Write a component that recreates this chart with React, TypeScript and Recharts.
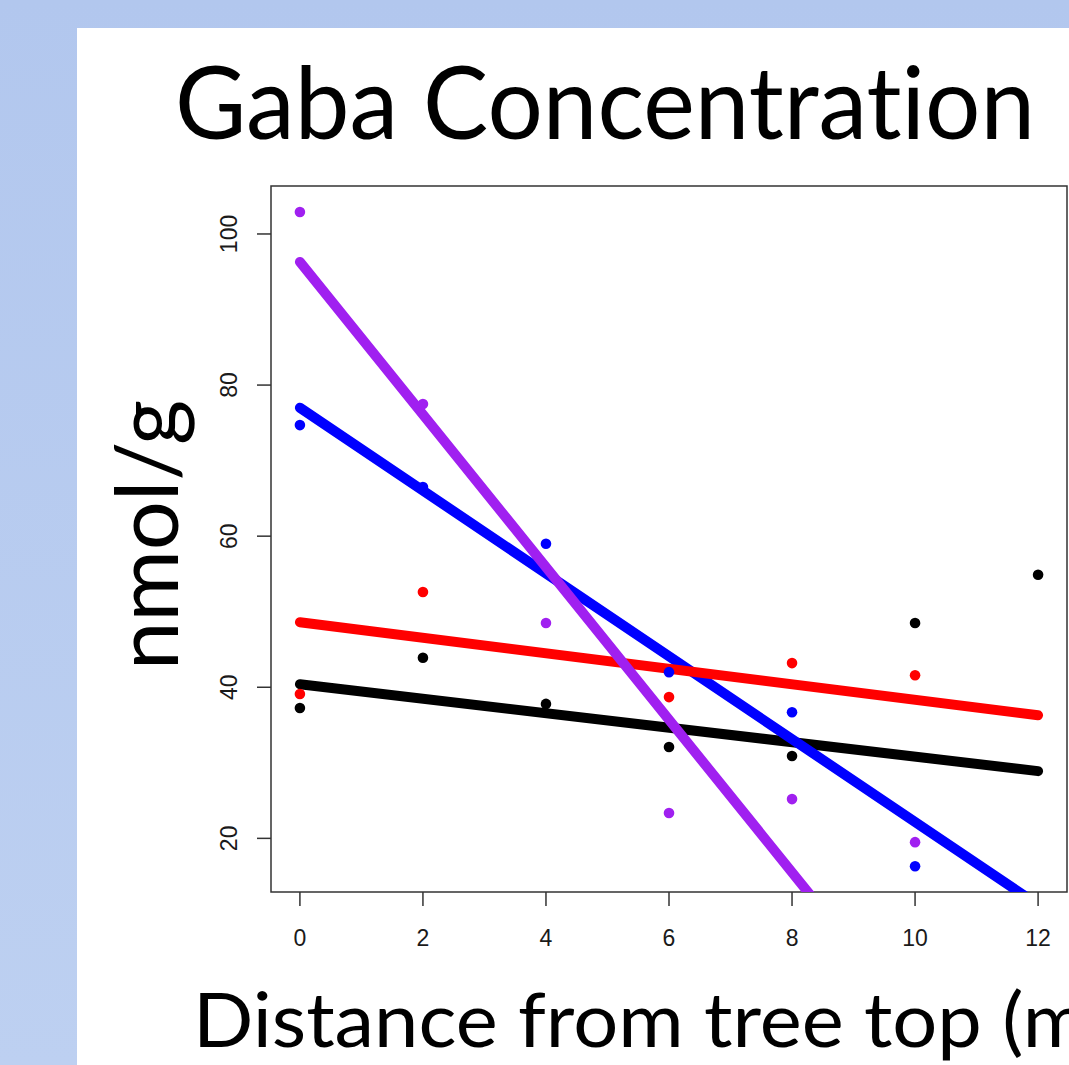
import React from "react";
import {
  ComposedChart,
  Line,
  Scatter,
  XAxis,
  YAxis,
  ReferenceArea,
} from "recharts";

// ---------- data ----------
const distances = [0, 2, 4, 6, 8, 10, 12];
const blackValues = [37.25, 43.9, 37.8, 32.1, 30.9, 48.5, 54.9];
const redValues = [39.1, 52.6, null, 38.7, 43.2, 41.6, null];
const blueValues = [74.7, 66.5, 59.0, 42.0, 36.7, 16.3, null];
const purpleValues = [102.9, 77.5, 48.5, 23.35, 25.2, 19.5, null];

const fitX = [0, 12];
const blackFit = [40.4, 28.9];
const redFit = [48.6, 36.3];
const blueFit = [77.0, 11.2];
const purpleFit = [96.3, -24.9];

const xTicks = [0, 2, 4, 6, 8, 10, 12];
const yTicks = [20, 40, 60, 80, 100];

const titleText = "Gaba Concentration";
const yTitle = "nmol/g";
const xTitle = "Distance from tree top (m)";

// ---------- helpers ----------
const toPoints = (vals: (number | null)[]) =>
  distances
    .map((x, i) => ({ x, y: vals[i] }))
    .filter((p) => p.y !== null);

const toLine = (vals: number[]) => fitX.map((x, i) => ({ x, y: vals[i] }));

const dot = (color: string) => (props: any) =>
  props.cx == null ? null : (
    <circle cx={props.cx} cy={props.cy} r={5.3} fill={color} />
  );

const XTick = (props: any) => (
  <text
    x={props.x}
    y={946}
    textAnchor="middle"
    fontFamily="Liberation Sans, Arial, sans-serif"
    fontSize={23}
    fill="#1a1a1a"
  >
    {props.payload.value}
  </text>
);

const YTick = (props: any) => (
  <text
    x={237}
    y={props.y}
    transform={`rotate(-90 237 ${props.y})`}
    textAnchor="middle"
    fontFamily="Liberation Sans, Arial, sans-serif"
    fontSize={23}
    fill="#1a1a1a"
  >
    {props.payload.value}
  </text>
);

const W = 1069;
const H = 1065;
const X_DOMAIN: [number, number] = [-0.47, 12.47];
const Y_DOMAIN: [number, number] = [12.9, 106.35];

const noLig: React.CSSProperties = {
  fontVariantLigatures: "none",
  fontFeatureSettings: '"liga" 0, "clig" 0',
};

export default function App() {
  return (
    <div
      style={{
        position: "fixed",
        left: 0,
        top: 0,
        width: W,
        height: H,
        overflow: "hidden",
        background: "linear-gradient(180deg, #B2C7EE 0%, #BDD0F1 100%)",
      }}
    >
      <div
        style={{
          position: "absolute",
          left: 77,
          top: 28,
          width: W - 77,
          height: H - 28,
          background: "#FFFFFF",
        }}
      />
      <div style={{ position: "absolute", left: 0, top: 0 }}>
        <ComposedChart
          width={W}
          height={H}
          margin={{ top: 186, right: 2, bottom: 113, left: 211 }}
        >
          <XAxis
            dataKey="x"
            type="number"
            domain={X_DOMAIN}
            ticks={xTicks}
            allowDataOverflow
            axisLine={false}
            tickLine={{ stroke: "#333", strokeWidth: 1.5 }}
            tickSize={14}
            height={60}
            tick={<XTick />}
          />
          <YAxis
            dataKey="y"
            type="number"
            domain={Y_DOMAIN}
            ticks={yTicks}
            allowDataOverflow
            axisLine={false}
            tickLine={{ stroke: "#333", strokeWidth: 1.5 }}
            tickSize={14}
            width={60}
            tick={<YTick />}
          />
          <ReferenceArea
            x1={X_DOMAIN[0]}
            x2={X_DOMAIN[1]}
            y1={Y_DOMAIN[0]}
            y2={Y_DOMAIN[1]}
            fill="none"
            fillOpacity={0}
            stroke="#333"
            strokeWidth={1.5}
          />
          <Scatter data={toPoints(blackValues)} dataKey="y" shape={dot("#000000")} isAnimationActive={false} />
          <Scatter data={toPoints(redValues)} dataKey="y" shape={dot("#FF0000")} isAnimationActive={false} />
          <Scatter data={toPoints(blueValues)} dataKey="y" shape={dot("#0000FF")} isAnimationActive={false} />
          <Scatter data={toPoints(purpleValues)} dataKey="y" shape={dot("#A020F0")} isAnimationActive={false} />
          <Line data={toLine(blackFit)} dataKey="y" stroke="#000000" strokeWidth={10} strokeLinecap="round" dot={false} isAnimationActive={false} />
          <Line data={toLine(blueFit)} dataKey="y" stroke="#0000FF" strokeWidth={10} strokeLinecap="round" dot={false} isAnimationActive={false} />
          <Line data={toLine(redFit)} dataKey="y" stroke="#FF0000" strokeWidth={10} strokeLinecap="round" dot={false} isAnimationActive={false} />
          <Line data={toLine(purpleFit)} dataKey="y" stroke="#A020F0" strokeWidth={10} strokeLinecap="round" dot={false} isAnimationActive={false} />
        </ComposedChart>
      </div>
      <svg
        width={W}
        height={H}
        style={{ position: "absolute", left: 0, top: 0, pointerEvents: "none" }}
      >
        <text
          x={175}
          y={139}
          fontFamily="Lato, sans-serif"
          fontSize={100}
          fill="#000"
          textLength={860}
          lengthAdjust="spacingAndGlyphs"
          style={noLig}
        >
          {titleText}
        </text>
        <text
          x={178}
          y={535}
          transform="rotate(-90 178 535)"
          textAnchor="middle"
          fontFamily="Lato, sans-serif"
          fontSize={88}
          fill="#000"
          textLength={270}
          lengthAdjust="spacingAndGlyphs"
          style={noLig}
        >
          {yTitle}
        </text>
        <text
          x={193}
          y={1047}
          fontFamily="Lato, sans-serif"
          fontSize={76}
          fill="#000"
          textLength={915}
          lengthAdjust="spacingAndGlyphs"
          style={noLig}
        >
          {xTitle}
        </text>
      </svg>
    </div>
  );
}
